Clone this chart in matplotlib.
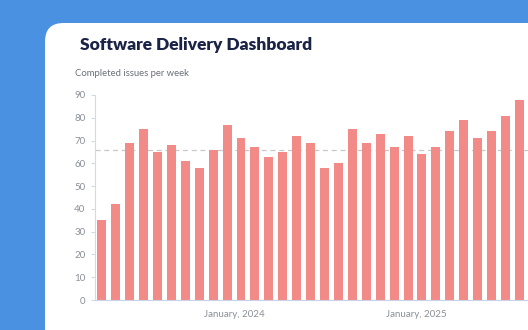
import matplotlib
matplotlib.use("Agg")
import matplotlib.pyplot as plt
import matplotlib.dates as mdates
from matplotlib.patches import FancyBboxPatch
import pandas as pd

# completed issues per 4-week period
periods = pd.date_range("2023-04-10", periods=31, freq="28D")
completed = [35, 42, 69, 75, 65, 68, 61, 58, 66, 77, 71, 67, 63, 65, 72, 69,
             58, 60, 75, 69, 73, 67, 72, 64, 67, 74, 79, 71, 74, 81, 88]
target = 66
y_ticks = [0, 10, 20, 30, 40, 50, 60, 70, 80, 90]

blue = "#4A91E2"
bar_color = "#F28B87"
grey = "#8a8f98"
navy = "#1B2347"

fig = plt.figure(figsize=(5.28, 3.30), dpi=100)
fig.patch.set_facecolor(blue)

# white card
card = FancyBboxPatch((45 / 528, -0.2), 1.0, 1.2 - 23 / 330,
                      boxstyle="round,pad=0,rounding_size=0.035",
                      transform=fig.transFigure, facecolor="white",
                      edgecolor="none", mutation_aspect=528 / 330, zorder=-5)
fig.patches.append(card)

fig.text(80 / 528, 1 - 45 / 330, "Software Delivery Dashboard", fontsize=12.5,
         fontweight="heavy", color=navy, family="Lato", va="center", ha="left")
fig.text(75 / 528, 1 - 73 / 330, "Completed issues per week", fontsize=6.8,
         color="#6b6f78", family="Lato", va="center", ha="left")

ax = fig.add_axes([95 / 528, 30 / 330, (528 - 95) / 528, 205 / 330])
ax.set_facecolor("none")
ax.set_zorder(2)

x = mdates.date2num(periods)
ax.bar(x, completed, width=18, color=bar_color, zorder=2)
ax.axhline(target, color="#c8c8c8", lw=0.9, ls=(0, (4, 3)), zorder=1)

px_day = 13.92 / 28
ax.set_xlim(x[0] - 6.8 / px_day, x[0] + (528 - 101.8) / px_day)
ax.set_ylim(0, 90)
ax.set_yticks(y_ticks)

ax.xaxis.set_major_locator(mdates.MonthLocator(bymonth=1))
ax.xaxis.set_major_formatter(mdates.DateFormatter("%B, %Y"))

for s in ["top", "right"]:
    ax.spines[s].set_visible(False)
ax.spines["left"].set_color("#d5d9e0")
ax.spines["bottom"].set_color("#c9d3e6")
ax.spines["left"].set_linewidth(0.8)
ax.spines["bottom"].set_linewidth(0.8)

ax.tick_params(axis="y", length=3, color="#d5d9e0", labelsize=7,
               labelcolor=grey, pad=4)
ax.tick_params(axis="x", length=0, labelsize=7, labelcolor=grey, pad=7)
for lab in ax.get_xticklabels() + ax.get_yticklabels():
    lab.set_family("Lato")

fig.savefig("out.png", dpi=100, facecolor=fig.get_facecolor())
